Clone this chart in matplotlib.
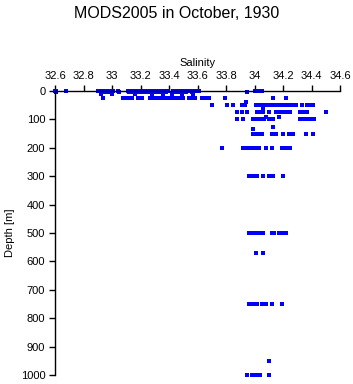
import matplotlib
matplotlib.use("Agg")
import matplotlib.pyplot as plt

# salinity values grouped by depth level (m)
depths = [0, 5, 10, 25, 38, 50, 62, 75, 90, 100, 128, 135, 150, 200, 300, 500, 570, 750, 950, 1000]
sal_0 = [32.60, 32.61, 32.68, 32.90, 32.91, 32.92, 32.94, 32.95, 32.97, 32.98, 32.99, 33.01, 33.04,
         33.11, 33.12, 33.13, 33.16, 33.18, 33.19, 33.20, 33.22, 33.23, 33.25, 33.26, 33.29, 33.30,
         33.32, 33.33, 33.34, 33.36, 33.37, 33.39, 33.43, 33.44, 33.46, 33.47, 33.48, 33.50, 33.51,
         33.53, 33.54, 33.55, 33.57, 33.58, 33.60, 33.61, 34.00, 34.02, 34.03, 34.05]
sal_5 = [32.61, 32.93, 32.95, 32.97, 33.00, 33.05, 33.12, 33.14, 33.18, 33.20, 33.22, 33.24, 33.26,
         33.30, 33.33, 33.38, 33.44, 33.47, 33.52, 33.56, 33.95]
sal_10 = [32.92, 33.00, 33.16, 33.28, 33.36, 33.42, 33.49, 33.57]
sal_25 = [32.94, 33.08, 33.10, 33.12, 33.14, 33.18, 33.21, 33.27, 33.29, 33.30, 33.32, 33.34, 33.36,
          33.38, 33.40, 33.42, 33.44, 33.46, 33.48, 33.50, 33.54, 33.56, 33.58, 33.63, 33.66, 33.68,
          33.79, 34.13, 34.22]
sal_38 = [33.94]
sal_50 = [33.70, 33.81, 33.85, 33.91, 33.93, 34.01, 34.03, 34.05, 34.07, 34.09, 34.11, 34.13, 34.15,
          34.17, 34.19, 34.21, 34.23, 34.25, 34.27, 34.29, 34.33, 34.37, 34.39, 34.41]
sal_62 = [34.06]
sal_75 = [33.88, 33.91, 33.95, 34.02, 34.04, 34.06, 34.10, 34.15, 34.17, 34.19, 34.21, 34.23, 34.25,
          34.32, 34.35, 34.37, 34.50]
sal_90 = [34.08, 34.17]
sal_100 = [33.88, 33.92, 33.99, 34.01, 34.03, 34.05, 34.07, 34.10, 34.13, 34.32, 34.34, 34.36, 34.39, 34.42]
sal_128 = [34.13]
sal_135 = [33.99]
sal_150 = [33.99, 34.01, 34.03, 34.05, 34.12, 34.15, 34.20, 34.24, 34.27, 34.36, 34.41]
sal_200 = [33.77, 33.92, 33.95, 33.97, 33.99, 34.01, 34.03, 34.08, 34.12, 34.19, 34.21, 34.23, 34.25]
sal_300 = [33.96, 33.98, 34.00, 34.02, 34.06, 34.10, 34.13, 34.20]
sal_500 = [33.96, 33.98, 34.00, 34.02, 34.04, 34.06, 34.12, 34.14, 34.17, 34.20, 34.22]
sal_570 = [34.01, 34.06]
sal_750 = [33.96, 33.98, 34.00, 34.02, 34.05, 34.08, 34.12, 34.19]
sal_950 = [34.10]
sal_1000 = [33.95, 33.98, 34.00, 34.02, 34.04, 34.10]
sal_levels = [sal_0, sal_5, sal_10, sal_25, sal_38, sal_50, sal_62, sal_75, sal_90, sal_100, sal_128,
              sal_135, sal_150, sal_200, sal_300, sal_500, sal_570, sal_750, sal_950, sal_1000]

xticks = [32.6, 32.8, 33.0, 33.2, 33.4, 33.6, 33.8, 34.0, 34.2, 34.4, 34.6]
xticklabels = ['32.6', '32.8', '33', '33.2', '33.4', '33.6', '33.8', '34', '34.2', '34.4', '34.6']
yticks = [0, 100, 200, 300, 400, 500, 600, 700, 800, 900, 1000]

plt.rcParams['font.family'] = ['Liberation Sans', 'DejaVu Sans']

x, y = [], []
for d, s in zip(depths, sal_levels):
    x.extend(s)
    y.extend([d] * len(s))

fig = plt.figure(figsize=(3.53, 3.84), dpi=100)
ax = fig.add_axes([55/353, 1 - 375/384, 285/353, 284/384])
ax.plot(x, y, linestyle='none', marker='s', ms=2.3, mew=0, color='#0000ff',
        clip_on=False, antialiased=False)
ax.set_xlim(32.6, 34.6)
ax.set_ylim(1000, 0)
ax.xaxis.set_ticks_position('top')
ax.xaxis.set_label_position('top')
ax.set_xticks(xticks)
ax.set_xticklabels(xticklabels)
ax.set_yticks(yticks)
ax.spines['right'].set_visible(False)
ax.spines['bottom'].set_visible(False)
for sp in ('top', 'left'):
    ax.spines[sp].set_linewidth(1.0)
ax.tick_params(axis='both', direction='out', length=4, width=1, labelsize=8, pad=3)
ax.set_xlabel('Salinity', fontsize=8, labelpad=4)
ax.set_ylabel('Depth [m]', fontsize=8, labelpad=4)
fig.suptitle('MODS2005 in October, 1930', fontsize=11.5, y=0.985, va='top')
fig.savefig('out.png', dpi=100)
